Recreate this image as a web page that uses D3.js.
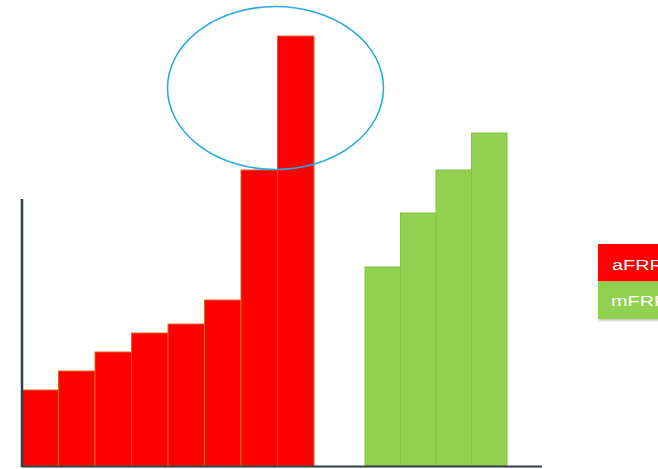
<!DOCTYPE html>
<html>
<head>
<meta charset="utf-8">
<script src="https://cdn.jsdelivr.net/npm/d3@7"></script>
<style>
html,body{margin:0;padding:0;background:#fff;overflow:hidden;}
svg{display:block;}
</style>
</head>
<body>
<script>
// Data
const afrrCategories = ["a1","a2","a3","a4","a5","a6","a7","a8"];
const afrrValues = [76, 95, 114, 133, 142, 166, 296, 430];
const mfrrCategories = ["m1","m2","m3","m4"];
const mfrrValues = [199, 253, 296, 333];
const legendLabels = ["aFRR", "mFRR"];

const W = 658, H = 469;
const svg = d3.select("body").append("svg").attr("width", W).attr("height", H);

const defs = svg.append("defs");
const f = defs.append("filter").attr("id","sh").attr("x","-20%").attr("y","-20%").attr("width","140%").attr("height","140%");
f.append("feDropShadow").attr("dx",1).attr("dy",1.5).attr("stdDeviation",1.2).attr("flood-color","#000").attr("flood-opacity",0.25);

const baseY = 466;
const y = d3.scaleLinear().domain([0, 450]).range([baseY, baseY - 450]);
const xA = d3.scaleBand().domain(afrrCategories).range([22, 314]).padding(0);
const xM = d3.scaleBand().domain(mfrrCategories).range([365, 507]).padding(0);

// bars
svg.append("g").selectAll("rect").data(afrrCategories).join("rect")
  .attr("x", d => xA(d))
  .attr("y", (d,i) => y(afrrValues[i]))
  .attr("width", xA.bandwidth())
  .attr("height", (d,i) => baseY - y(afrrValues[i]))
  .attr("fill", "#ff0000")
  .attr("stroke", "#e2641e")
  .attr("stroke-width", 1);

svg.append("g").selectAll("rect").data(mfrrCategories).join("rect")
  .attr("x", d => xM(d))
  .attr("y", (d,i) => y(mfrrValues[i]))
  .attr("width", xM.bandwidth())
  .attr("height", (d,i) => baseY - y(mfrrValues[i]))
  .attr("fill", "#92d050")
  .attr("stroke", "#86bf48")
  .attr("stroke-width", 1);

// axes
svg.append("line").attr("x1", 22).attr("x2", 22).attr("y1", 199).attr("y2", baseY + 1)
  .attr("stroke", "#333d44").attr("stroke-width", 2.5);
svg.append("line").attr("x1", 22).attr("x2", 542).attr("y1", baseY + 0.5).attr("y2", baseY + 0.5)
  .attr("stroke", "#333d44").attr("stroke-width", 2);

// annotation ellipse around the last aFRR bar
const lastA = afrrCategories[afrrCategories.length - 1];
svg.append("ellipse")
  .attr("cx", xA(lastA) - 2)
  .attr("cy", (y(afrrValues[7]) + y(afrrValues[6])) / 2 - 15)
  .attr("rx", 108).attr("ry", 81.5)
  .attr("fill", "none").attr("stroke", "#29a9e1").attr("stroke-width", 1.6);

// legend
const lg = svg.append("g").attr("transform", "translate(598,244)");
const colors = ["#ff0000", "#92d050"];
lg.append("rect").attr("x",0).attr("y",0).attr("width",70).attr("height",75).attr("fill","#fff").attr("filter","url(#sh)");
legendLabels.forEach((t, i) => {
  lg.append("rect").attr("x", 0).attr("y", i * 37.5).attr("width", 70).attr("height", 37.5)
    .attr("fill", colors[i]);
  lg.append("text")
    .attr("transform", `translate(${i === 0 ? 14 : 13},${i * 36 + 26}) scale(1.28,1)`)
    .attr("fill", "#fff").attr("font-family", "Liberation Sans, Arial, sans-serif")
    .attr("font-size", 15.5).text(t);
});
</script>
</body>
</html>
